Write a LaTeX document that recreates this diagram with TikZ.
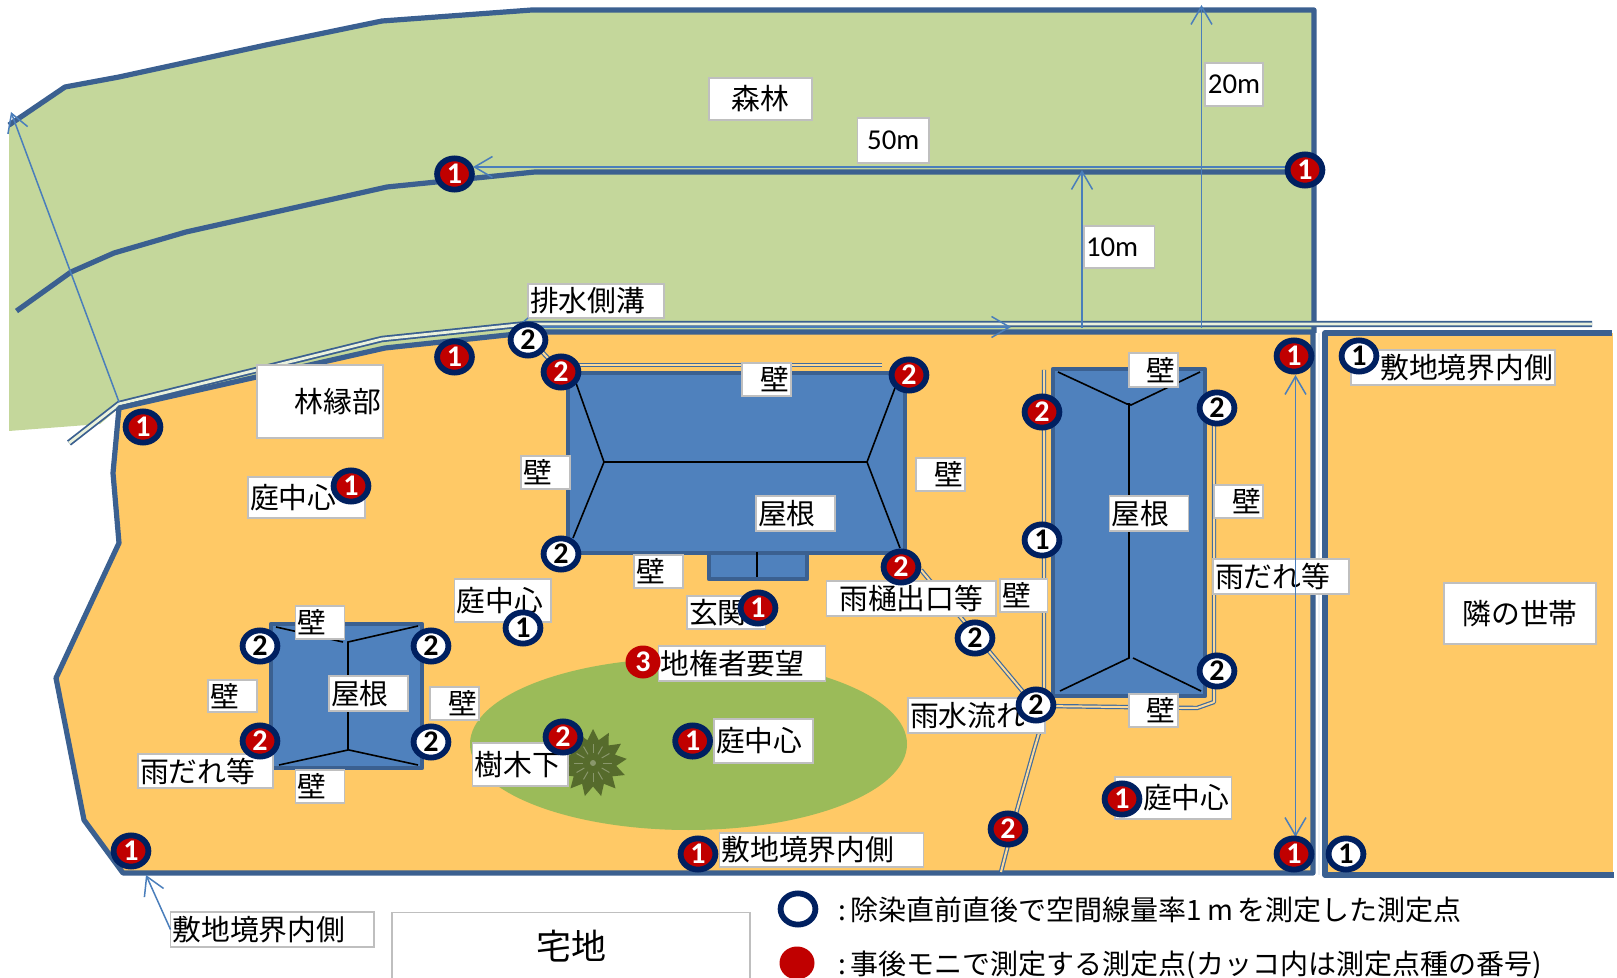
\documentclass[tikz,border=0pt]{standalone}
\usepackage{fontspec}
\usetikzlibrary{arrows.meta,shapes.geometric,calc}
\setmainfont{Noto Sans CJK JP}
\newfontfamily\latinface{Carlito}
\definecolor{forest}{HTML}{C4D79B}
\definecolor{yard}{HTML}{FFC966}
\definecolor{lawn}{HTML}{9BBB59}
\definecolor{roof}{HTML}{4F81BD}
\definecolor{edge}{HTML}{3B6090}
\definecolor{thin}{HTML}{4A7EBB}
\definecolor{navy}{HTML}{002060}
\definecolor{redm}{HTML}{C00000}
\definecolor{tree}{HTML}{566B2C}
\tikzset{
  bound/.style={draw=edge,line width=2.6pt,line join=round},
  ditch/.style={draw=edge,line width=.9pt,double=white!65!forest,double distance=1.4pt,line join=round},
  gutter/.style={draw=thin!85!black,line width=.6pt,double=yard!70!white,double distance=1pt,line join=round},
  house/.style={fill=roof,draw=edge,line width=2.4pt,line join=round},
  ridge/.style={draw=black,line width=.8pt},
  dim/.style={draw=thin,line width=.75pt},
  tip/.style={-{Straight Barb[length=9pt,width=10.5pt,line width=.75pt]}},
  lbl/.style={fill=white,draw=black!25,line width=.8pt,inner sep=0pt,outer sep=0pt,font=\fontsize{14.4}{16}\selectfont},
  mark base/.style={ellipse,inner sep=0pt,minimum width=17.4pt,minimum height=15.6pt,line width=2.9pt,draw=navy,font=\latinface\bfseries\fontsize{15}{15}\selectfont},
  mred/.style={mark base,fill=redm,text=white},
  mwhite/.style={mark base,fill=white,text=black},
  mplain/.style={ellipse,inner sep=0pt,minimum width=17.5pt,minimum height=16.5pt,fill=redm,text=white,font=\latinface\bfseries\fontsize{15}{15}\selectfont},
  legendtext/.style={anchor=west,inner sep=0pt,font=\fontsize{14}{16}\selectfont}
}
\newcommand\lab[7]{%
  \pgfmathsetmacro\lw{(#4-#2)*0.5}\pgfmathsetmacro\lh{(#5-#3)*0.5}\pgfmathsetmacro\lt{(#4-#2)*0.5-2}%
  \node[lbl,minimum width=\lw pt,minimum height=\lh pt] (#1) at ({(#2+#4)/2},{(#3+#5)/2}) {\makebox[\lt pt][#6]{#7}};%
}
\newcommand\latin[1]{{\latinface #1}}
\begin{document}
\begin{tikzpicture}[x=0.5pt,y=-0.5pt]
\useasboundingbox (0,0) rectangle (1617,978);
% forest
\fill[forest] (9,125)--(65,87)--(119,77)--(266,45)--(382,21)--(532,10)--(1314,10)--(1314,333)--(535,332)--(385,348)--(119,408)--(100,424)--(9,431)--cycle;
\draw[bound] (9,125)--(65,87)--(119,77)--(266,45)--(382,21)--(532,10)--(1314,10)--(1314,333);
\draw[bound] (16.5,311)--(71,272)--(114,253)--(186,232)--(387,187)--(535,172)--(1314,172);
% ditch
\draw[ditch] (69,443)--(119,404)--(382,339)--(527,324)--(1592,324);
% yards
\draw[bound,fill=yard] (119,408)--(385,348)--(535,332)--(1313,332)--(1313,873)--(123,873)--(84,820)--(56,678)--(119,543)--(113,473)--cycle;
\fill[yard] (1325,333)--(1613,333)--(1613,875)--(1325,875)--cycle;
\draw[bound] (1612,333)--(1592,333)--(1325,333)--(1325,875)--(1614,875);
\draw[white!90!thin,line width=.6pt] (1319,333)--(1319,875);
% lawn and tree
\fill[lawn] (688.5,744) ellipse [x radius=218.5,y radius=86];
% gutters
\draw[gutter] (568,365)--(882,365);
\draw[gutter] (1044,370)--(1044,706)--(1197,708)--(1214,702)--(1214,410);
\draw[gutter] (921,570)--(1024,693);
\draw[gutter] (1039,733)--(1034,750)--(1017,810)--(1001,872);
\draw[gutter] (531,340)--(561,372);
% houses
\draw[house] (568,373) rectangle (905,553);
\draw[house] (709,553) rectangle (807,579);
\draw[ridge] (757,552)--(757,577);
\draw[ridge] (576,383)--(604,462)--(867,462)--(895,388);
\draw[ridge] (604,462)--(573,538);
\draw[ridge] (867,462)--(900,548);
\draw[house] (1053,369) rectangle (1205,696);
\draw[ridge] (1058,372)--(1127,404)--(1129,404)--(1129,658)--(1060,691);
\draw[ridge] (1129,404)--(1131,405)--(1200,372);
\draw[ridge] (1133,658)--(1201,691);
\draw[house] (271,624) rectangle (422,768);
\draw[ridge] (276,627)--(343,642);
\draw[ridge] (418,626)--(348,642)--(348,750)--(279,765);
\draw[ridge] (349,750)--(418,765);
% tree
\node[star,star points=13,star point ratio=1.45,fill=tree,minimum size=34pt,inner sep=0pt] (tree1) at (593,763) {};
\foreach \a in {0,30,...,330}{
  \draw[white!30!tree,line width=.5pt] ($(593,763)+(\a:10)$) -- ($(593,763)+(\a:19)$);
}
\fill[white!30!tree] (593,763) circle [radius=3];
% labels
\lab{forestL}{709}{78}{812}{120}{c}{森林}
\lab{m50}{857.5}{118}{929}{163}{c}{\latin{50m}}
\lab{m20}{1205}{63}{1263}{106}{c}{\latin{20m}}
\lab{m10}{1084}{226}{1154.5}{268}{l}{\latin{10m}}
\lab{haisui}{528}{284}{664}{318}{l}{排水側溝}
\lab{rinen}{257}{365}{383}{438}{r}{林縁部}
\lab{wallA}{742}{363}{791}{396}{r}{壁}
\lab{wallB}{521}{456}{570}{489}{l}{壁}
\lab{wallC}{916}{458}{965}{491}{r}{壁}
\lab{roofA}{756}{496}{835}{531}{l}{屋根}
\lab{wallD}{634}{555}{683}{588}{l}{壁}
\lab{niwaA}{248}{477}{365}{518}{l}{庭中心}
\lab{niwaB}{454.5}{579}{551}{622}{l}{庭中心}
\lab{genkan}{687}{596}{765.5}{629}{l}{玄関}
\lab{jiken}{658.5}{646}{825.5}{681}{l}{地権者要望}
\lab{niwaC}{714}{719}{813}{763}{l}{庭中心}
\lab{jumoku}{472.6}{743}{568}{786}{l}{樹木下}
\lab{wallE}{295.5}{606}{344.5}{639}{l}{壁}
\lab{wallF}{208}{680}{257}{712}{l}{壁}
\lab{roofB}{329}{676}{408}{711}{l}{屋根}
\lab{wallG}{430}{687}{479}{720}{r}{壁}
\lab{wallH}{295.5}{770}{344.5}{803}{l}{壁}
\lab{amaA}{138}{754}{273}{788}{l}{雨だれ等}
\lab{shikiA}{719.5}{833}{923.6}{867}{l}{敷地境界内側}
\lab{shikiB}{170.5}{912}{374}{947}{l}{敷地境界内側}
\pgfmathsetmacro\lw{(750-392.5)*0.5}
\node[lbl,minimum width=\lw pt,minimum height=33.5pt,font=\fontsize{17.5}{20}\selectfont] (takuchi) at (571,946) {宅地};
\lab{toi}{826.5}{581}{996}{616}{c}{雨樋出口等}
\lab{wallI}{1000}{579}{1047.6}{612}{l}{壁}
\lab{roofC}{1109.6}{496}{1188.6}{531}{l}{屋根}
\lab{wallJ}{1128.7}{353}{1177.7}{387}{r}{壁}
\lab{wallK}{1214}{485}{1263}{518}{r}{壁}
\lab{amaB}{1213}{559}{1349}{594}{l}{雨だれ等}
\lab{rinka}{1444}{583}{1596}{644}{c}{隣の世帯}
\lab{wallL}{1128.7}{694}{1177.7}{727}{r}{壁}
\lab{usui}{908}{698}{1045}{733}{l}{雨水流れ}
\lab{niwaD}{1115}{777}{1231.5}{819}{r}{庭中心}
\lab{shikiC}{1351}{350}{1555}{385}{r}{敷地境界内側}
% dimension arrows
\coordinate (corner) at (119,402);
\coordinate (cornerT) at (11,112);
\coordinate (fr) at (1285,167);
\coordinate (fl) at (473,167);
\coordinate (a20s) at (1201.5,328);
\coordinate (a20e) at (1201.5,5);
\coordinate (a10s) at (1082,328);
\coordinate (a10e) at (1082,170);
\coordinate (a2t) at (1295.5,375);
\coordinate (a2b) at (1295.5,837);
\coordinate (cornerB) at (146,875);
\coordinate (ds) at (528,327);
\coordinate (de) at (1011,327);
\draw[dim,tip] (corner)--(cornerT);
\draw[dim,tip] (fr)--(fl);
\draw[dim,tip] (a20s)--(a20e);
\draw[dim,tip] (a10s)--(a10e);
\draw[dim,{Straight Barb[length=9pt,width=10.5pt,line width=.75pt]}-{Straight Barb[length=9pt,width=10.5pt,line width=.75pt]}] (a2t)--(a2b);
\draw[dim,tip] (shikiB.west)--(cornerB);
\draw[dim,tip] (ds)--(de);
\draw[dim] (haisui.south west)--(515,329);
% markers
\node[mred] (r1a) at (454.5,174) {1};
\node[mred] (r1b) at (1305,170) {1};
\node[mred] (r1c) at (454.5,357) {1};
\node[mred] (r1d) at (143,427) {1};
\node[mred] (r1e) at (351,486) {1};
\node[mred] (r1f) at (1294,356) {1};
\node[mred] (r1g) at (758,608) {1};
\node[mred] (r1h) at (692.6,741) {1};
\node[mred] (r1i) at (131,851) {1};
\node[mred] (r1j) at (698,854) {1};
\node[mred] (r1k) at (1122,799) {1};
\node[mred] (r1l) at (1294,854) {1};
\node[mred] (r2a) at (561,372) {2};
\node[mred] (r2b) at (909,375) {2};
\node[mred] (r2c) at (1042,412) {2};
\node[mred] (r2d) at (901,567) {2};
\node[mred] (r2e) at (260,741) {2};
\node[mred] (r2f) at (563,737) {2};
\node[mred] (r2g) at (1008,829) {2};
\node[mwhite] (w2a) at (528,340) {2};
\node[mwhite] (w2b) at (1217,408) {2};
\node[mwhite] (w2c) at (561,554) {2};
\node[mwhite] (w2d) at (260,646) {2};
\node[mwhite] (w2e) at (431,646) {2};
\node[mwhite] (w2f) at (431,742) {2};
\node[mwhite] (w2g) at (975,638) {2};
\node[mwhite] (w2h) at (1036,705) {2};
\node[mwhite] (w2i) at (1217,671) {2};
\node[mwhite] (w1a) at (1359,356) {1};
\node[mwhite] (w1b) at (1042,540) {1};
\node[mwhite] (w1c) at (523,628) {1};
\node[mwhite] (w1d) at (1346,854) {1};
\node[mplain] (p3) at (643,662) {3};
% legend
\node[mark base,fill=white] (legW) at (798,909) {};
\node[mplain] (legR) at (797,963) {};
\node[legendtext] (legT1) at (838,910) {:\,除染直前直後で空間線量率1\,m\,を測定した測定点};
\node[legendtext] (legT2) at (838,965) {:\,事後モニで測定する測定点(カッコ内は測定点種の番号)};
\end{tikzpicture}
\end{document}
